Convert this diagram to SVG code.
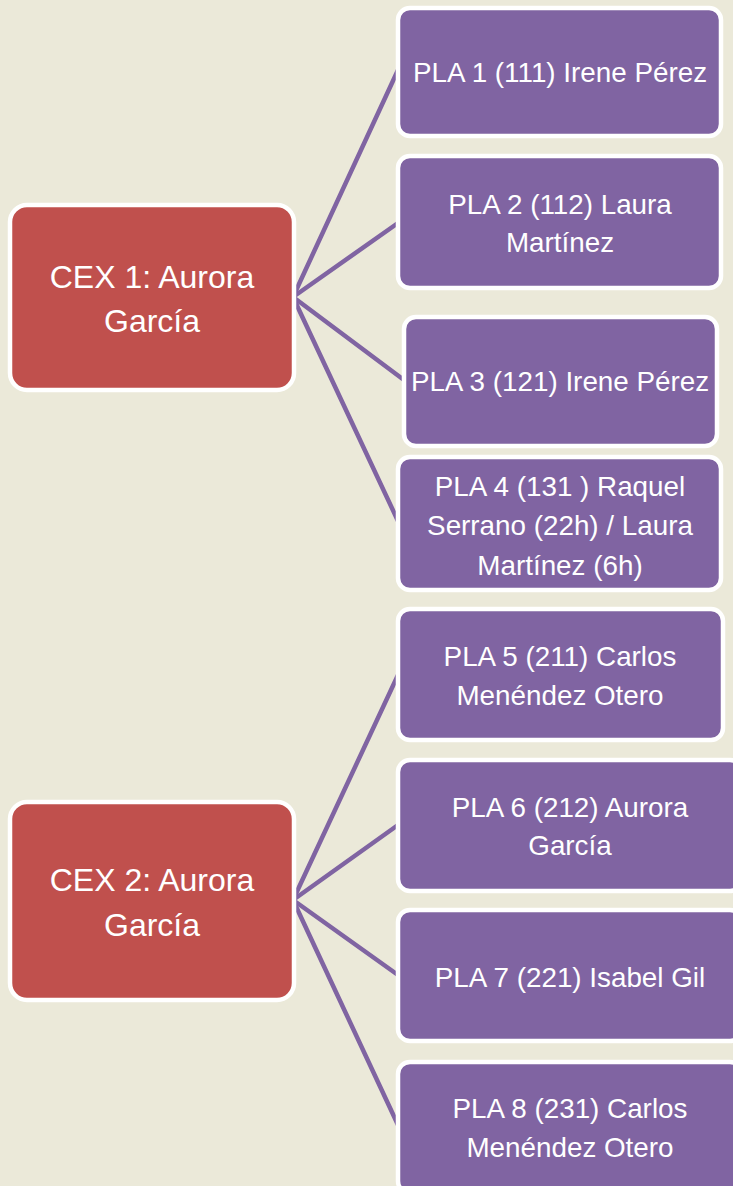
<svg xmlns="http://www.w3.org/2000/svg" width="733" height="1186" viewBox="0 0 733 1186">
<style>
.bg{fill:#EBE9D9}
.cex{fill:#C0504D;stroke:#FFFFFF;stroke-width:4.5}
.pla{fill:#8064A2;stroke:#FFFFFF;stroke-width:4.5}
.conn line{stroke:#8064A2;stroke-width:4.5;stroke-linecap:round}
.t{fill:#FFFFFF;font-family:"Liberation Sans",Arial,sans-serif;text-anchor:middle}
.tc{font-size:32px}
.tp{font-size:27.8px}
</style>
<rect class="bg" x="0" y="0" width="733" height="1186"/>
<g id="connectors" class="conn">
  <line x1="293" y1="297" x2="398" y2="70"/>
  <line x1="293" y1="297" x2="398" y2="223"/>
  <line x1="293" y1="297" x2="404" y2="380"/>
  <line x1="293" y1="297" x2="398" y2="521"/>
  <line x1="293" y1="900" x2="398" y2="675"/>
  <line x1="293" y1="900" x2="398" y2="825"/>
  <line x1="293" y1="900" x2="398" y2="975"/>
  <line x1="293" y1="900" x2="398" y2="1125"/>
</g>
<g id="cex1">
  <rect class="cex" x="10" y="205" width="284" height="185" rx="17"/>
  <text class="t tc"><tspan x="152" y="288">CEX 1: Aurora</tspan><tspan x="152" y="332">García</tspan></text>
</g>
<g id="cex2">
  <rect class="cex" x="10" y="802" width="284" height="198" rx="17"/>
  <text class="t tc"><tspan x="152" y="891">CEX 2: Aurora</tspan><tspan x="152" y="936">García</tspan></text>
</g>
<g id="pla1">
  <rect class="pla" x="398" y="8" width="323" height="128" rx="12"/>
  <text class="t tp" x="560" y="82">PLA 1 (111) Irene Pérez</text>
</g>
<g id="pla2">
  <rect class="pla" x="398" y="156" width="323" height="132" rx="12"/>
  <text class="t tp"><tspan x="560" y="214">PLA 2 (112) Laura</tspan><tspan x="560" y="252">Martínez</tspan></text>
</g>
<g id="pla3">
  <rect class="pla" x="404" y="317" width="313" height="129" rx="12"/>
  <text class="t tp" x="560" y="391">PLA 3 (121) Irene Pérez</text>
</g>
<g id="pla4">
  <rect class="pla" x="398" y="457" width="323" height="133" rx="12"/>
  <text class="t tp"><tspan x="560" y="496">PLA 4 (131 ) Raquel</tspan><tspan x="560" y="535">Serrano (22h) / Laura</tspan><tspan x="560" y="575">Martínez (6h)</tspan></text>
</g>
<g id="pla5">
  <rect class="pla" x="398" y="609" width="325" height="131" rx="12"/>
  <text class="t tp"><tspan x="560" y="666">PLA 5 (211) Carlos</tspan><tspan x="560" y="705">Menéndez Otero</tspan></text>
</g>
<g id="pla6">
  <rect class="pla" x="398" y="760" width="344" height="131" rx="12"/>
  <text class="t tp"><tspan x="570" y="817">PLA 6 (212) Aurora</tspan><tspan x="570" y="855">García</tspan></text>
</g>
<g id="pla7">
  <rect class="pla" x="398" y="910" width="344" height="131" rx="12"/>
  <text class="t tp" x="570" y="987">PLA 7 (221) Isabel Gil</text>
</g>
<g id="pla8">
  <rect class="pla" x="398" y="1062" width="344" height="131" rx="12"/>
  <text class="t tp"><tspan x="570" y="1118">PLA 8 (231) Carlos</tspan><tspan x="570" y="1157">Menéndez Otero</tspan></text>
</g>
</svg>
